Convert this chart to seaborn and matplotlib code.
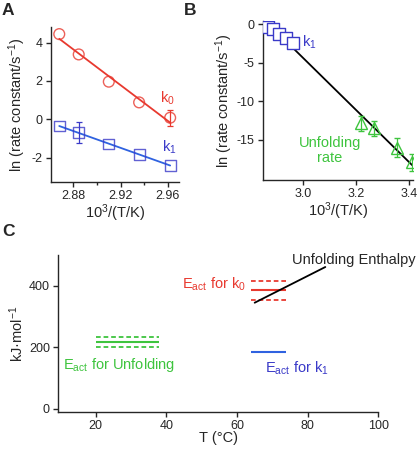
import numpy as np
import pandas as pd
import matplotlib
matplotlib.use("Agg")
import matplotlib.pyplot as plt
import seaborn as sns

# ---------------- data ----------------
# Panel A / B : k0 and k1 Arrhenius data
invT_k = [2.868, 2.8845, 2.910, 2.9357, 2.962]
ln_k0 = [4.44, 3.38, 1.96, 0.88, 0.08]
ln_k0_err = [0.0, 0.0, 0.0, 0.0, 0.42]
ln_k1 = [-0.35, -0.70, -1.29, -1.84, -2.40]
ln_k1_err = [0.0, 0.55, 0.0, 0.0, 0.0]

# Panel B : unfolding rate
invT_unf = [3.217, 3.267, 3.353, 3.412]
ln_unf = [-12.85, -13.5, -16.0, -17.9]
ln_unf_err = [1.0, 1.0, 1.2, 1.1]

# Panel C : activation energies (kJ/mol)
unf_T = [20, 38]
unf_Ea = 218
unf_Ea_err = 17
k0_T = [64, 74]
k0_Ea = 386
k0_Ea_err = 31
k1_T = [64, 74]
k1_Ea = 184
enth_T = [65, 85]
enth_H = [345, 461]

# ---------------- style ----------------
sns.set_style("ticks")
plt.rcParams["font.family"] = ["Liberation Sans", "DejaVu Sans"]
plt.rcParams["mathtext.default"] = "regular"
plt.rcParams["axes.unicode_minus"] = False
plt.rcParams["axes.linewidth"] = 1.0
plt.rcParams["xtick.major.width"] = 1.0
plt.rcParams["ytick.major.width"] = 1.0
plt.rcParams["xtick.minor.width"] = 1.0
plt.rcParams["xtick.major.size"] = 3.5
plt.rcParams["ytick.major.size"] = 3.5
plt.rcParams["xtick.minor.size"] = 2.5
plt.rcParams["xtick.labelsize"] = 9
plt.rcParams["ytick.labelsize"] = 9
plt.rcParams["axes.labelsize"] = 10.5
plt.rcParams["xtick.major.pad"] = 2.5
plt.rcParams["ytick.major.pad"] = 2.5

RED = "#e8392f"
BLUE = "#2f62e0"
BLUE_D = "#3a3ac8"
GREEN = "#3ec43e"
TXT = 10.5

W, H = 418, 454
fig = plt.figure(figsize=(W / 100, H / 100), dpi=100)


def box(l, r, t, b):
    return [l / W, (H - b) / H, (r - l) / W, (b - t) / H]


axA = fig.add_axes(box(51, 179, 27, 182))
axB = fig.add_axes(box(262.7, 413, 21, 180))
axC = fig.add_axes(box(58.3, 378.3, 255, 411.7))

dfA = pd.DataFrame({"x": invT_k, "k0": ln_k0, "k1": ln_k1})

# ---------------- Panel A ----------------
sns.regplot(data=dfA, x="x", y="k0", ax=axA, ci=None, truncate=True,
            marker="o",
            scatter_kws=dict(s=60, facecolors="none",
                             edgecolors=RED, linewidths=1.0, zorder=3),
            line_kws=dict(color=RED, lw=1.3), color=RED)
sns.regplot(data=dfA, x="x", y="k1", ax=axA, ci=None, truncate=True,
            marker="s",
            scatter_kws=dict(s=60, facecolors="none",
                             edgecolors=BLUE_D, linewidths=1.0, zorder=3),
            line_kws=dict(color=BLUE, lw=1.3), color=BLUE)
x_arr = np.array(invT_k)
for yv, ev, c in [(ln_k0, ln_k0_err, RED), (ln_k1, ln_k1_err, BLUE_D)]:
    ev = np.array(ev)
    m = ev > 0
    axA.errorbar(x_arr[m], np.array(yv)[m], yerr=ev[m], fmt="none",
                 ecolor=c, elinewidth=0.9, capsize=2.2, capthick=0.9)
axA.set_xlim(2.861, 2.9695)
axA.set_ylim(-3.27, 4.81)
axA.set_xticks([2.88, 2.92, 2.96])
axA.set_xticklabels(["2.88", "2.92", "2.96"])
axA.set_xticks([2.90, 2.94], minor=True)
axA.set_yticks([-2, 0, 2, 4])
axA.set_xlabel("10$^{3}$/(T/K)", labelpad=0)
axA.set_ylabel("ln (rate constant/s$^{-1}$)", labelpad=3)
axA.text(2.960, 1.1, "k$_{0}$", color=RED, fontsize=TXT, ha="center", va="center")
axA.text(2.961, -1.45, "k$_{1}$", color=BLUE_D, fontsize=TXT, ha="center", va="center")
sns.despine(ax=axA)

# ---------------- Panel B ----------------
dfB = pd.DataFrame({"x": invT_k + invT_unf, "y": ln_k1 + ln_unf})
sns.regplot(data=dfB, x="x", y="y", ax=axB, ci=None, truncate=True,
            scatter=False, line_kws=dict(color="black", lw=1.3, zorder=1))
axB.scatter(invT_k, ln_k1, marker="s", s=70, facecolors="white",
            edgecolors=BLUE_D, linewidths=1.0, zorder=3)
axB.errorbar(invT_unf, ln_unf, yerr=ln_unf_err, fmt="^", ms=8.5,
             mfc="none", mec=GREEN, mew=1.0, ecolor=GREEN,
             elinewidth=0.9, capsize=2.2, capthick=0.9, zorder=3)
axB.set_xlim(2.847, 3.415)
axB.set_ylim(-20.2, 0.4)
axB.set_xticks([3.0, 3.2, 3.4])
axB.set_yticks([-15, -10, -5, 0])
axB.set_xlabel("10$^{3}$/(T/K)", labelpad=0)
axB.set_ylabel("ln (rate constant/s$^{-1}$)", labelpad=1)
axB.text(2.997, -2.3, "k$_{1}$", color=BLUE_D, fontsize=TXT, ha="left", va="center")
axB.text(3.10, -16.4, "Unfolding\nrate", color=GREEN, fontsize=TXT,
         ha="center", va="center", linespacing=1.1)
sns.despine(ax=axB)

# ---------------- Panel C ----------------
dash = (0, (2.6, 1.6))
axC.hlines(unf_Ea, unf_T[0], unf_T[1], color=GREEN, lw=1.5)
axC.hlines([unf_Ea + unf_Ea_err, unf_Ea - unf_Ea_err], unf_T[0], unf_T[1],
           color=GREEN, lw=1.3, linestyles=[dash])
axC.hlines(k0_Ea, k0_T[0], k0_T[1], color=RED, lw=1.5)
axC.hlines([k0_Ea + k0_Ea_err, k0_Ea - k0_Ea_err], k0_T[0], k0_T[1],
           color=RED, lw=1.3, linestyles=[dash])
axC.hlines(k1_Ea, k1_T[0], k1_T[1], color=BLUE, lw=1.5)
sns.lineplot(x=enth_T, y=enth_H, ax=axC, color="black", lw=1.3)
axC.set_xlim(9.4, 100)
axC.set_ylim(-9, 500)
axC.set_xticks([20, 40, 60, 80, 100])
axC.set_yticks([0, 200, 400])
axC.set_xlabel("T (°C)", labelpad=-1)
axC.set_ylabel("kJ·mol$^{-1}$", labelpad=2)
axC.text(75.6, 485, "Unfolding Enthalpy", fontsize=TXT, ha="left", va="center")
axC.text(62.5, 405, "E$_{act}$ for k$_{0}$", color=RED, fontsize=TXT,
         ha="right", va="center")
axC.text(10.7, 142, "E$_{act}$ for Unfolding", color=GREEN, fontsize=TXT,
         ha="left", va="center")
axC.text(67.9, 131, "E$_{act}$ for k$_{1}$", color=BLUE_D, fontsize=TXT,
         ha="left", va="center")
sns.despine(ax=axC)

# panel letters
fig.text(2 / W, 1 - 3 / H, "A", fontsize=12.5, fontweight="bold", va="top")
fig.text(184 / W, 1 - 3 / H, "B", fontsize=12.5, fontweight="bold", va="top")
fig.text(2 / W, 1 - 224 / H, "C", fontsize=12.5, fontweight="bold", va="top")

fig.savefig("out.png", dpi=100)
